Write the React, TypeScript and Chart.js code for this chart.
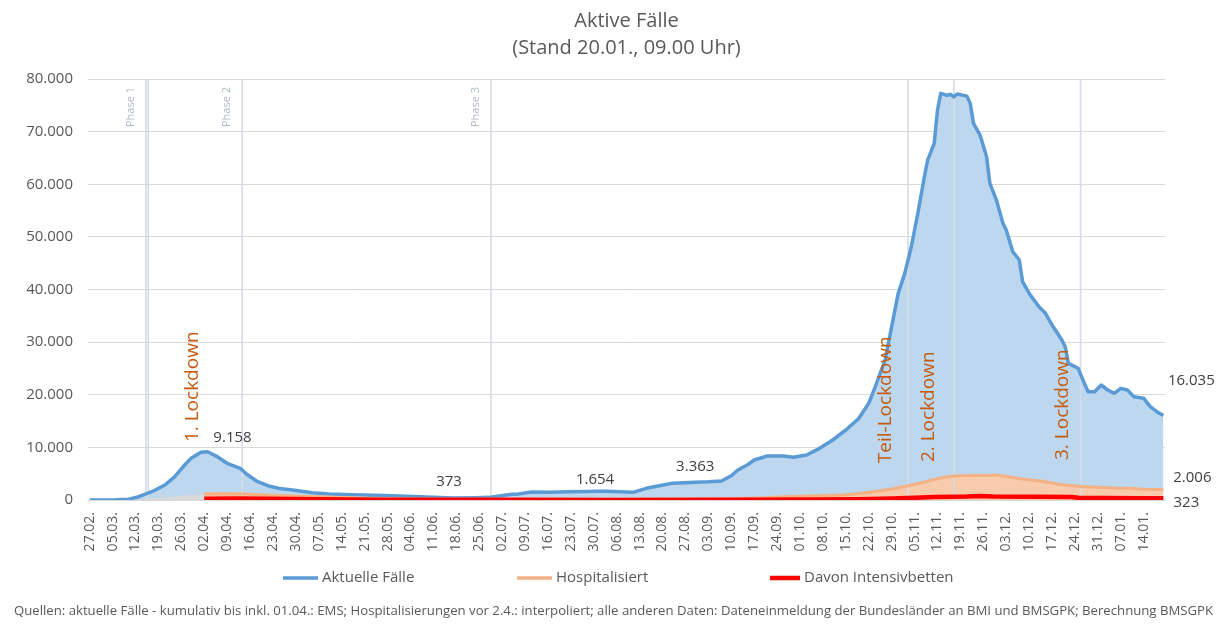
import React, { useEffect, useRef } from "react";
import { Chart, registerables } from "chart.js";

Chart.register(...registerables);

// ---------- data (day index 0 = 27.02.2020) ----------
const tickLabels = [
  "27.02.", "05.03.", "12.03.", "19.03.", "26.03.", "02.04.", "09.04.", "16.04.", "23.04.", "30.04.",
  "07.05.", "14.05.", "21.05.", "28.05.", "04.06.", "11.06.", "18.06.", "25.06.", "02.07.", "09.07.",
  "16.07.", "23.07.", "30.07.", "06.08.", "13.08.", "20.08.", "27.08.", "03.09.", "10.09.", "17.09.",
  "24.09.", "01.10.", "08.10.", "15.10.", "22.10.", "29.10.", "05.11.", "12.11.", "19.11.", "26.11.",
  "03.12.", "10.12.", "17.12.", "24.12.", "31.12.", "07.01.", "14.01.",
];

const activeCases: [number, number][] = [
  [0, 5], [8, 60], [12, 150], [15, 630], [19, 1580], [23, 2850], [26, 4430], [29, 6650], [31, 7920],
  [34, 9060], [36, 9158], [39, 8230], [42, 6970], [44, 6500], [46, 6020], [48, 4900], [51, 3600],
  [55, 2600], [58, 2200], [62, 1900], [68, 1390], [73, 1140], [80, 1000], [90, 850], [101, 630],
  [111, 373], [118, 430], [122, 500], [124, 650], [129, 1100], [131, 1150], [135, 1500], [141, 1460],
  [146, 1550], [152, 1620], [155, 1654], [158, 1640], [162, 1550], [166, 1450], [170, 2220], [174, 2700],
  [178, 3170], [185, 3363], [189, 3450], [193, 3600], [196, 4600], [198, 5700], [201, 6700], [203, 7600],
  [207, 8360], [212, 8360], [215, 8110], [219, 8550], [223, 9820], [227, 11400], [231, 13300],
  [235, 15520], [238, 18370], [240, 21530], [243, 26600], [245, 32930], [247, 39270], [249, 43070],
  [251, 48130], [253, 54470], [255, 61430], [256, 64600], [258, 67770], [259, 74100], [260, 77270],
  [262, 76900], [263, 77100], [264, 76600], [265, 77140], [268, 76750], [269, 75370], [270, 71570],
  [272, 69350], [274, 65230], [275, 60170], [277, 57000], [279, 52570], [280, 51300], [282, 47180],
  [284, 45600], [285, 41480], [287, 39270], [290, 36730], [292, 35470], [294, 33250], [297, 30400],
  [298, 29130], [299, 25970], [302, 25020], [303, 23430], [305, 20580], [307, 20580], [309, 21850],
  [311, 20900], [313, 20270], [315, 21220], [317, 20900], [319, 19630], [322, 19320], [324, 17730],
  [326, 16780], [328, 16035],
];

const hospitalised: [number, number][] = [
  [35, 1150], [40, 1200], [47, 1150], [54, 950], [60, 800], [68, 650], [75, 500], [85, 350], [95, 250],
  [110, 150], [125, 120], [145, 120], [165, 130], [180, 150], [195, 250], [205, 400], [212, 600],
  [220, 750], [230, 950], [236, 1300], [240, 1600], [245, 2100], [250, 2700], [255, 3400], [258, 3900],
  [262, 4400], [265, 4600], [270, 4650], [275, 4650], [277, 4750], [280, 4450], [285, 4000], [291, 3550],
  [297, 2900], [303, 2550], [308, 2400], [314, 2250], [318, 2250], [322, 2050], [326, 2000], [328, 2006],
];

const hospInterpolated: [number, number][] = [[14, 0], [35, 1150]];

const icuBeds: [number, number][] = [
  [35, 250], [45, 280], [55, 220], [70, 130], [90, 70], [120, 30], [160, 20], [200, 40], [220, 80],
  [235, 150], [245, 280], [252, 420], [258, 550], [264, 620], [268, 660], [272, 760], [276, 680],
  [290, 620], [300, 580], [302, 420], [310, 390], [320, 350], [328, 323],
];

const caseLabelDays = [36, 111, 155, 185, 328];

const markerDays = [17.2, 17.9, 46.6, 122.6, 250, 264, 302.7];
const phaseDays = [17.2, 46.6, 122.6];
const phaseTexts = ["Phase 1", "Phase 2", "Phase 3"];

const lockdownTexts = ["1. Lockdown", "Teil-Lockdown", "2. Lockdown", "3. Lockdown"];
const lockdownDays = [31.6, 243.1, 256.4, 297.3];
const lockdownValues = [11000, 7000, 7200, 7600];

const titleLines = ["Aktive Fälle", "(Stand 20.01., 09.00 Uhr)"];
const legendTexts = ["Aktuelle Fälle", "Hospitalisiert", "Davon Intensivbetten"];
const footerText =
  "Quellen: aktuelle Fälle - kumulativ bis inkl. 01.04.: EMS; Hospitalisierungen vor 2.4.: interpoliert; alle anderen Daten: Dateneinmeldung der Bundesländer an BMI und BMSGPK; Berechnung BMSGPK";

// ---------- styling ----------
const FONT = '"Open Sans", "DejaVu Sans", sans-serif';
const BLUE = "#5B9BD5";
const BLUE_FILL = "#BDD7EE";
const ORANGE = "#F4B183";
const ORANGE_FILL = "#F8CBAD";
const RED = "#FF0000";
const TEXT = "#595959";

function fmt(n: number): string {
  return String(Math.round(n)).replace(/\B(?=(\d{3})+(?!\d))/g, ".");
}

const toXY = (arr: [number, number][]) => arr.map(([d, v]) => ({ x: d, y: v }));

export default function App() {
  const ref = useRef<HTMLCanvasElement>(null);

  useEffect(() => {
    const canvas = ref.current;
    if (!canvas) return;

    const overlay = {
      id: "overlay",
      beforeDatasetsDraw(chart: any) {
        const { ctx, chartArea: a, scales } = chart;
        const x = scales.x;
        ctx.save();
        ctx.strokeStyle = "rgb(214,220,229)";
        ctx.lineWidth = 1.6;
        for (const d of markerDays) {
          const px = x.getPixelForValue(d);
          ctx.beginPath();
          ctx.moveTo(px, a.top);
          ctx.lineTo(px, a.bottom);
          ctx.stroke();
        }
        ctx.restore();
      },
      afterDatasetsDraw(chart: any) {
        const { ctx, chartArea: a, scales } = chart;
        const x = scales.x;
        const y = scales.y;
        ctx.save();
        // phase texts
        ctx.fillStyle = "rgb(173,185,202)";
        ctx.font = `11px ${FONT}`;
        ctx.textBaseline = "middle";
        ctx.textAlign = "right";
        phaseDays.forEach((d, i) => {
          const px = x.getPixelForValue(d) - 15;
          ctx.save();
          ctx.translate(px, a.top + 8);
          ctx.rotate(-Math.PI / 2);
          ctx.fillText(phaseTexts[i], 0, 0);
          ctx.restore();
        });
        // lockdown texts
        ctx.fillStyle = "#C55A11";
        ctx.font = `19px ${FONT}`;
        ctx.textAlign = "left";
        lockdownTexts.forEach((t, i) => {
          const px = x.getPixelForValue(lockdownDays[i]);
          const py = y.getPixelForValue(lockdownValues[i]);
          ctx.save();
          ctx.translate(px, py);
          ctx.rotate(-Math.PI / 2);
          ctx.fillText(t, 0, 0);
          ctx.restore();
        });
        // data labels
        ctx.fillStyle = "#404040";
        ctx.font = `15px ${FONT}`;
        ctx.textAlign = "center";
        const caseOffsets = [[25, -14], [-4, -16], [-2, -12], [0, -16], [28, -35]];
        caseLabelDays.forEach((d, i) => {
          const pt = activeCases.find((p) => p[0] === d);
          if (!pt) return;
          const px = x.getPixelForValue(pt[0]);
          const py = y.getPixelForValue(pt[1]);
          ctx.fillText(fmt(pt[1]), px + caseOffsets[i][0], py + caseOffsets[i][1]);
        });
        const lastH = hospitalised[hospitalised.length - 1];
        ctx.fillText(fmt(lastH[1]), x.getPixelForValue(lastH[0]) + 29, y.getPixelForValue(lastH[1]) - 12);
        const lastI = icuBeds[icuBeds.length - 1];
        ctx.fillText(fmt(lastI[1]), x.getPixelForValue(lastI[0]) + 23, y.getPixelForValue(lastI[1]) + 4);
        ctx.restore();
      },
      afterDraw(chart: any) {
        const { ctx, chartArea: a, width } = chart;
        ctx.save();
        // title
        ctx.fillStyle = TEXT;
        ctx.textAlign = "center";
        ctx.textBaseline = "middle";
        ctx.font = `20px ${FONT}`;
        const cx = (a.left + a.right) / 2;
        ctx.fillText(titleLines[0], cx, 13);
        ctx.fillText(titleLines[1], cx, 40);
        // legend
        const legendColors = [BLUE, ORANGE, RED];
        const legendX = [275, 509, 762];
        const legendW = [35, 35, 30];
        const ly = 570;
        ctx.font = `15px ${FONT}`;
        ctx.textAlign = "left";
        legendTexts.forEach((t, i) => {
          ctx.strokeStyle = legendColors[i];
          ctx.lineWidth = i === 2 ? 4.5 : 3.5;
          ctx.beginPath();
          ctx.moveTo(legendX[i], ly);
          ctx.lineTo(legendX[i] + legendW[i], ly);
          ctx.stroke();
          ctx.fillStyle = TEXT;
          ctx.fillText(t, legendX[i] + legendW[i] + 4, ly);
        });
        // footer
        ctx.font = `12px ${FONT}`;
        const w = ctx.measureText(footerText).width;
        const size = (12 * 1200) / w;
        ctx.font = `${size.toFixed(2)}px ${FONT}`;
        ctx.fillStyle = TEXT;
        ctx.textAlign = "center";
        ctx.fillText(footerText, width / 2 + 2, 603);
        ctx.restore();
      },
    };

    const chart = new Chart(canvas, {
      type: "line",
      data: {
        datasets: [
          {
            label: "Davon Intensivbetten",
            data: toXY(icuBeds),
            borderColor: RED,
            backgroundColor: RED,
            borderWidth: 4.5,
            pointRadius: 0,
            fill: false,
            clip: 0,
          },
          {
            label: "Hospitalisiert",
            data: toXY(hospitalised),
            borderColor: ORANGE,
            backgroundColor: ORANGE_FILL,
            borderWidth: 3,
            pointRadius: 0,
            fill: "origin",
            clip: 0,
          },
          {
            label: "interpoliert",
            data: toXY(hospInterpolated),
            borderColor: "transparent",
            backgroundColor: "#D9D9D9",
            borderWidth: 1,
            pointRadius: 0,
            fill: "origin",
            clip: 0,
          },
          {
            label: "Aktuelle Fälle",
            data: toXY(activeCases),
            borderColor: BLUE,
            backgroundColor: BLUE_FILL,
            borderWidth: 3.5,
            pointRadius: 0,
            fill: "origin",
            clip: 0,
          },
        ],
      },
      options: {
        animation: false,
        responsive: true,
        maintainAspectRatio: false,
        events: [],
        layout: { padding: { left: 0, top: 71, right: 50, bottom: 48 } },
        elements: { line: { tension: 0, borderJoinStyle: "round" } },
        plugins: {
          legend: { display: false },
          title: { display: false },
          tooltip: { enabled: false },
          filler: { drawTime: "beforeDatasetsDraw" },
        } as any,
        scales: {
          x: {
            type: "linear",
            min: -0.5,
            max: 328.5,
            grid: { display: false, drawTicks: false },
            border: { display: false },
            afterBuildTicks: (s: any) => {
              s.ticks = tickLabels.map((_, i) => ({ value: i * 7 }));
            },
            afterFit: (s: any) => {
              s.height = 70;
            },
            ticks: {
              autoSkip: false,
              minRotation: 90,
              maxRotation: 90,
              padding: 12,
              color: TEXT,
              font: { family: FONT, size: 14 },
              callback: (_v: any, i: number) => tickLabels[i],
            },
          },
          y: {
            min: 0,
            max: 80000,
            afterFit: (s: any) => {
              s.width = 80;
            },
            grid: { color: "#D9D9D9", drawTicks: false },
            border: { display: false },
            ticks: {
              stepSize: 10000,
              padding: 15,
              color: TEXT,
              font: { family: FONT, size: 15 },
              callback: (v: any) => fmt(Number(v)),
            },
          },
        },
      } as any,
      plugins: [overlay],
    });

    return () => chart.destroy();
  }, []);

  return (
    <div style={{ width: 1207, height: 610, position: "relative" }}>
      <canvas ref={ref} />
    </div>
  );
}
